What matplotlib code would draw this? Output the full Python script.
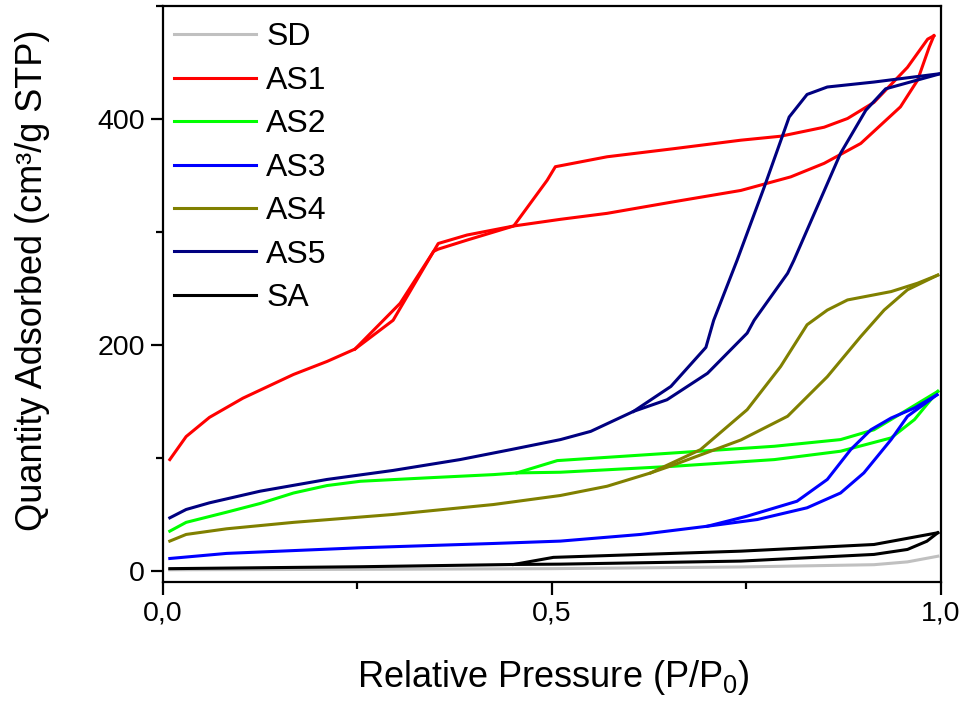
import matplotlib
matplotlib.use("Agg")
import matplotlib.pyplot as plt
from matplotlib.ticker import MultipleLocator, FuncFormatter

plt.rcParams['font.family'] = ['Liberation Sans', 'DejaVu Sans']
plt.rcParams['mathtext.fontset'] = 'custom'
plt.rcParams['mathtext.rm'] = 'Liberation Sans'
plt.rcParams['mathtext.it'] = 'Liberation Sans'

# isotherms: adsorption (ads) and desorption (des) branches
sd_ads_x = [0.009, 0.3, 0.5, 0.743, 0.914, 0.957, 0.996]
sd_ads_y = [1, 1.5, 2, 3.5, 5.5, 8, 13]

as1_ads_x = [0.009, 0.030, 0.060, 0.103, 0.168, 0.211, 0.247, 0.296, 0.348, 0.354, 0.391, 0.451,
             0.511, 0.571, 0.657, 0.743, 0.807, 0.850, 0.897, 0.948, 0.970, 0.985, 0.991]
as1_ads_y = [98.6, 119, 136, 153, 174, 185.5, 196.5, 222, 283, 285, 293, 305.5,
             311.4, 316.7, 327, 337, 349, 361, 378.6, 411, 434.6, 464, 474]
as1_des_x = [0.991, 0.983, 0.957, 0.914, 0.880, 0.850, 0.794, 0.743, 0.657, 0.571, 0.5045,
             0.494, 0.451, 0.391, 0.354, 0.348, 0.305, 0.247]
as1_des_y = [474, 471, 446, 415, 400.7, 393, 385, 381.5, 374, 366.8, 358,
             346, 305.5, 297.5, 290, 283, 237, 196.5]

as2_ads_x = [0.009, 0.030, 0.082, 0.125, 0.168, 0.211, 0.254, 0.339, 0.425, 0.455, 0.511,
             0.657, 0.786, 0.871, 0.936, 0.966, 0.987, 0.996]
as2_ads_y = [35.2, 43, 52, 59.7, 69, 75.6, 79.4, 82.4, 85.3, 86.8, 87.4,
             92.7, 98.6, 106, 117.8, 134, 151.6, 159]
as2_des_x = [0.996, 0.957, 0.914, 0.871, 0.786, 0.657, 0.507, 0.455]
as2_des_y = [159, 142.8, 125, 116.3, 110.4, 104.5, 97.7, 86.8]

as3_ads_x = [0.009, 0.082, 0.254, 0.425, 0.511, 0.614, 0.700, 0.764, 0.828, 0.871, 0.901,
             0.936, 0.957, 0.995]
as3_ads_y = [11, 15.5, 20.5, 24.3, 26.4, 32.3, 39.6, 45.5, 55.9, 69, 86.8,
             116.3, 136.9, 156]
as3_des_x = [0.995, 0.966, 0.936, 0.910, 0.884, 0.854, 0.815, 0.751, 0.700]
as3_des_y = [156, 144.3, 135.4, 125, 107.4, 81, 61.7, 48.5, 39.6]

as4_ads_x = [0.009, 0.030, 0.082, 0.168, 0.296, 0.425, 0.511, 0.571, 0.627, 0.657, 0.743,
             0.803, 0.854, 0.897, 0.927, 0.957, 0.996]
as4_ads_y = [26.4, 32.3, 37.3, 43, 50, 58.8, 66.8, 75, 86.8, 94, 116,
             137, 172, 207.6, 231, 249, 262]
as4_des_x = [0.996, 0.970, 0.936, 0.880, 0.854, 0.828, 0.794, 0.751, 0.691, 0.627]
as4_des_y = [262, 254.8, 247.4, 240, 231, 218, 181, 142.8, 107.4, 86.8]

as5_ads_x = [0.009, 0.030, 0.060, 0.125, 0.211, 0.296, 0.382, 0.447, 0.511, 0.550, 0.605,
             0.648, 0.700, 0.751, 0.760, 0.803, 0.811, 0.871, 0.9035, 0.929, 1.0]
as5_ads_y = [47, 54.4, 60.3, 70.6, 81, 89, 98.6, 107.4, 116.3, 123.6, 141.3,
             151.6, 175, 210.6, 222, 263.6, 275, 369.8, 408, 427, 440.5]
as5_des_x = [1.0, 0.914, 0.854, 0.828, 0.805, 0.773, 0.738, 0.708, 0.698, 0.653, 0.605]
as5_des_y = [440.5, 433, 428.6, 422, 402, 340, 275, 222, 198, 163.4, 141.3]

sa_ads_x = [0.009, 0.254, 0.451, 0.511, 0.743, 0.914, 0.957, 0.982, 0.996]
sa_ads_y = [2, 3.7, 5.7, 6.0, 8.7, 14.6, 19, 26.3, 33.8]
sa_des_x = [0.996, 0.914, 0.743, 0.502, 0.451]
sa_des_y = [33.8, 23.4, 17.5, 12, 5.7]

series = [
    ("SD", "#c0c0c0", sd_ads_x, sd_ads_y, None, None),
    ("AS1", "#ff0000", as1_ads_x, as1_ads_y, as1_des_x, as1_des_y),
    ("AS2", "#00ff00", as2_ads_x, as2_ads_y, as2_des_x, as2_des_y),
    ("AS3", "#0000ff", as3_ads_x, as3_ads_y, as3_des_x, as3_des_y),
    ("AS4", "#808000", as4_ads_x, as4_ads_y, as4_des_x, as4_des_y),
    ("AS5", "#000080", as5_ads_x, as5_ads_y, as5_des_x, as5_des_y),
    ("SA", "#000000", sa_ads_x, sa_ads_y, sa_des_x, sa_des_y),
]

fig = plt.figure(figsize=(9.69, 7.10), dpi=100)
ax = fig.add_axes([0.168, 0.180, 0.803, 0.811])

lw = 2.2
for name, col, ax_x, ax_y, dx, dy in series:
    ax.plot(ax_x, ax_y, color=col, lw=lw, label=name)
    if dx is not None:
        ax.plot(dx, dy, color=col, lw=lw)

ax.set_xlim(0, 1.0)
ax.set_ylim(-10, 500)
ax.xaxis.set_major_locator(MultipleLocator(0.5))
ax.xaxis.set_minor_locator(MultipleLocator(0.25))
ax.yaxis.set_major_locator(MultipleLocator(200))
ax.yaxis.set_minor_locator(MultipleLocator(100))
ax.xaxis.set_major_formatter(FuncFormatter(lambda v, p: f"{v:.1f}".replace(".", ",")))

for s in ax.spines.values():
    s.set_linewidth(1.6)
ax.tick_params(which='major', direction='out', length=9, width=1.6, labelsize=20.5, pad=4)
ax.tick_params(which='minor', direction='out', length=5, width=1.6)

ax.set_xlabel(r"Relative Pressure (P/P$_{\mathrm{0}}$)", fontsize=26)
ax.set_ylabel("Quantity Adsorbed (cm³/g STP)", fontsize=26)
ax.xaxis.set_label_coords(0.502, -0.132)
ax.yaxis.set_label_coords(-0.145, 0.525)

ax.legend(loc='upper left', bbox_to_anchor=(0.0, 0.992), frameon=False, fontsize=23,
          handlelength=2.57, handletextpad=0.31, labelspacing=0.42,
          borderaxespad=0.0, borderpad=0.36)

fig.savefig("out.png", dpi=100)
